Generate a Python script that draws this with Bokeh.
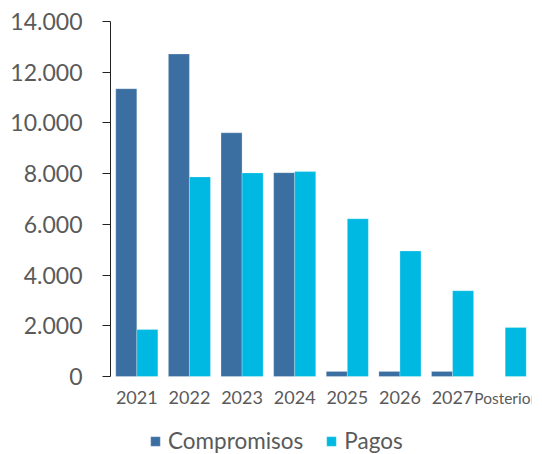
from bokeh.plotting import figure
from bokeh.models import (FactorRange, Range1d, FixedTicker, Legend, LegendItem,
                          ColumnDataSource)
from bokeh.transform import dodge
from bokeh.core.properties import value
from bokeh.embed import file_html
from bokeh.resources import INLINE

categories = ["2021", "2022", "2023", "2024", "2025", "2026", "2027", "Posterior"]
compromisos = [11350, 12720, 9610, 8040, 200, 200, 200, 0]
pagos = [1850, 7870, 8030, 8080, 6220, 4950, 3380, 1930]
yticks = [0, 2000, 4000, 6000, 8000, 10000, 12000, 14000]
ytick_labels = ["0", "2.000", "4.000", "6.000", "8.000", "10.000", "12.000", "14.000"]

C_COLOR = "#3C6FA1"
P_COLOR = "#00B9E2"
TXT = "#5A5A5A"
FONT = "Lato"

src = ColumnDataSource(dict(cat=categories, comp=compromisos, pag=pagos))
label_sizes = ["18px"] * (len(categories) - 1) + ["15.5px"]
lab_src = ColumnDataSource(dict(cat=categories, base=[0] * len(categories),
                                size=label_sizes))

# frame: 0 at 355px below 14000; frame extends 78px below the zero line
units_per_px = 14000 / 355
p = figure(width=542, height=454, x_range=FactorRange(*categories),
           y_range=Range1d(-78 * units_per_px, 14000), output_backend="svg",
           toolbar_location=None,
           min_border_left=110, min_border_right=11, min_border_top=21,
           min_border_bottom=0)
p.outline_line_color = None
p.xgrid.grid_line_color = None
p.ygrid.grid_line_color = None
p.x_range.range_padding = 0
p.xaxis.visible = False

rc = p.vbar(x=dodge("cat", -0.2, range=p.x_range), top="comp", width=0.4, source=src,
            fill_color=C_COLOR, line_color="white", line_alpha=0.25)
rp = p.vbar(x=dodge("cat", 0.2, range=p.x_range), top="pag", width=0.4, source=src,
            fill_color=P_COLOR, line_color="white", line_alpha=0.25)

# category labels under the bars
p.text(x="cat", y="base", text="cat", source=lab_src, y_offset=21,
       text_align="center", text_baseline="middle", text_font=value(FONT),
       text_font_size="size", text_color=TXT)

ya = p.yaxis[0]
ya.bounds = (0, 14000)
ya.ticker = FixedTicker(ticks=yticks)
ya.major_label_overrides = {t: l for t, l in zip(yticks, ytick_labels)}
ya.axis_line_color = "#222222"
ya.major_tick_line_color = "#222222"
ya.major_tick_out = 8
ya.major_tick_in = 0
ya.minor_tick_line_color = None
ya.major_label_standoff = 20
ya.major_label_text_font = FONT
ya.major_label_text_font_size = "23px"
ya.major_label_text_color = TXT

legend = Legend(items=[LegendItem(label="Compromisos", renderers=[rc]),
                       LegendItem(label="Pagos", renderers=[rp])],
                orientation="horizontal", location=(39, 0),
                glyph_width=12, glyph_height=12, label_text_font=FONT,
                label_text_font_size="22.5px", label_text_color=TXT,
                spacing=22, padding=0, margin=0, border_line_color=None,
                background_fill_alpha=0, label_standoff=7)
p.add_layout(legend)

open("out.html", "w").write(file_html(p, INLINE))
